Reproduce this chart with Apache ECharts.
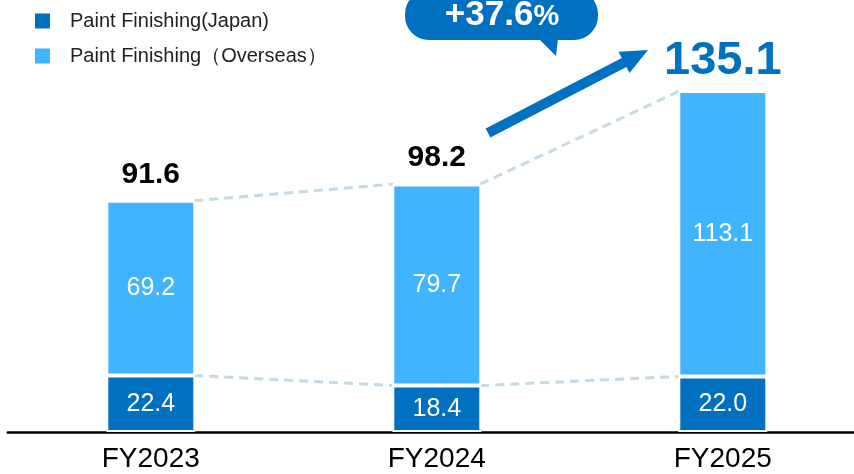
<!DOCTYPE html>
<html>
<head>
<meta charset="utf-8">
<script src="https://cdn.jsdelivr.net/npm/echarts@6/dist/echarts.min.js"></script>
<style>
  html, body { margin: 0; padding: 0; background: #fff; }
  #chart { width: 854px; height: 474px; }
</style>
</head>
<body>
<div id="chart"></div>
<script>
// Sales of the paint finishing business, by fiscal year
const categories = ['FY2023', 'FY2024', 'FY2025'];
const japanValues = [22.4, 18.4, 22.0];
const overseasValues = [69.2, 79.7, 113.1];
const totalValues = [91.6, 98.2, 135.1];
const seriesNames = ['Paint Finishing(Japan)', 'Paint Finishing\uFF08Overseas\uFF09'];

const FONT = '"Liberation Sans", Arial, sans-serif';
const DARK_BLUE = '#0070C0';
const LIGHT_BLUE = '#41B4FF';
const DASH_COLOR = '#C3DAE7';
const BAR_W = 87;      // visible bar width
const BORDER = 2;      // white separator between stacked segments

const growthPct = ((totalValues[2] / totalValues[1] - 1) * 100).toFixed(1);

// dashed connectors between the tops of neighbouring bars
function connectorData(values) {
  const out = [];
  for (let i = 0; i < values.length - 1; i++) out.push([i, values[i], values[i + 1]]);
  return out;
}
function connectorSeries(values) {
  return {
    type: 'custom',
    silent: true,
    z: 1,
    data: connectorData(values),
    renderItem: function (params, api) {
      const i = api.value(0);
      const a = api.coord([i, api.value(1)]);
      const b = api.coord([i + 1, api.value(2)]);
      return {
        type: 'line',
        shape: { x1: a[0] + BAR_W / 2, y1: a[1], x2: b[0] - BAR_W / 2, y2: b[1] },
        style: { stroke: DASH_COLOR, lineWidth: 3, lineDash: [9, 6] }
      };
    }
  };
}

const totalLabelStyles = [
  { fontSize: 30, color: '#000', distance: 11 },
  { fontSize: 30, color: '#000', distance: 11 },
  { fontSize: 47, color: DARK_BLUE, distance: 6 }
];

const segmentLabel = {
  show: true, position: 'inside', color: '#fff', fontFamily: FONT, fontSize: 25,
  formatter: p => p.value.toFixed(1)
};

const chart = echarts.init(document.getElementById('chart'), null, { renderer: 'canvas' });
chart.setOption({
  animation: false,
  backgroundColor: '#fff',
  textStyle: { fontFamily: FONT },
  grid: { left: 7.8, top: 53.4, width: 858, height: 378.6, containLabel: false, outerBoundsMode: 'none' },
  legend: {
    orient: 'vertical',
    left: 35,
    top: 11,
    padding: 0,
    itemWidth: 15,
    itemHeight: 15,
    itemGap: 15,
    icon: 'rect',
    data: seriesNames,
    itemStyle: { borderWidth: 0 },
    textStyle: { fontFamily: FONT, fontSize: 20, color: '#222', padding: [0, 0, 0, 15] }
  },
  xAxis: {
    type: 'category',
    data: categories,
    axisLine: { lineStyle: { color: '#000', width: 2.5 } },
    axisTick: { show: false },
    axisLabel: { fontFamily: FONT, fontSize: 28, color: '#000', margin: 13 }
  },
  yAxis: { type: 'value', min: 0, max: 150, show: false, splitLine: { show: false } },
  series: [
    connectorSeries(totalValues),
    connectorSeries(japanValues),
    {
      name: seriesNames[0],
      type: 'bar',
      stack: 'sales',
      barWidth: BAR_W + BORDER,
      z: 2,
      data: japanValues,
      itemStyle: { color: DARK_BLUE, borderColor: '#fff', borderWidth: BORDER },
      label: segmentLabel
    },
    {
      name: seriesNames[1],
      type: 'bar',
      stack: 'sales',
      barWidth: BAR_W + BORDER,
      z: 2,
      data: overseasValues,
      itemStyle: { color: LIGHT_BLUE, borderColor: '#fff', borderWidth: BORDER },
      label: segmentLabel
    },
    {
      name: 'total',
      type: 'scatter',
      symbolSize: 0,
      silent: true,
      z: 3,
      itemStyle: { opacity: 1 },
      data: totalValues.map((v, i) => ({
        value: v,
        label: {
          show: true,
          position: 'top',
          distance: totalLabelStyles[i].distance,
          fontFamily: FONT,
          fontWeight: 'bold',
          fontSize: totalLabelStyles[i].fontSize,
          color: totalLabelStyles[i].color,
          opacity: 1,
          formatter: p => p.value.toFixed(1)
        }
      }))
    }
  ],
  graphic: [
    // growth callout bubble
    {
      type: 'group',
      z: 10,
      children: [
        { type: 'rect', shape: { x: 405, y: -10, width: 193, height: 50, r: 24 }, style: { fill: DARK_BLUE } },
        { type: 'polygon', shape: { points: [[538, 38], [558, 38], [556, 56]] }, style: { fill: DARK_BLUE } },
        {
          type: 'text',
          x: 502, y: 15,
          style: {
            text: '{n|+' + growthPct + '}{p|%}',
            align: 'center',
            verticalAlign: 'middle',
            rich: {
              n: { fontFamily: FONT, fontWeight: 'bold', fontSize: 35, fill: '#fff' },
              p: { fontFamily: FONT, fontWeight: 'bold', fontSize: 29, fill: '#fff', padding: [4, 0, 0, 0] }
            }
          }
        }
      ]
    },
    // growth arrow
    {
      type: 'group',
      z: 10,
      children: [
        { type: 'line', shape: { x1: 488, y1: 133, x2: 627, y2: 61 }, style: { stroke: DARK_BLUE, lineWidth: 10 } },
        { type: 'polygon', shape: { points: [[648, 50], [629.5, 73.1], [618.5, 51.7]] }, style: { fill: DARK_BLUE } }
      ]
    }
  ]
});
</script>
</body>
</html>
